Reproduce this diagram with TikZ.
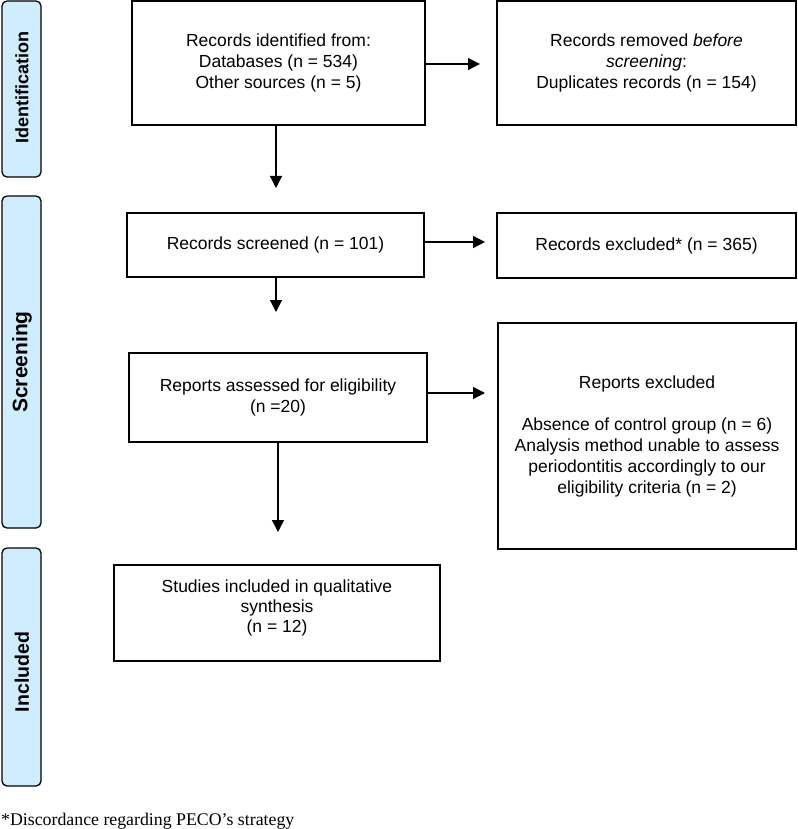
\documentclass[tikz,border=0pt]{standalone}
\usepackage{fontspec}
\setmainfont{Liberation Sans}
\newfontfamily\timesf{Liberation Serif}
\usetikzlibrary{arrows.meta}
\definecolor{barblue}{RGB}{208,237,253}
\begin{document}
\begin{tikzpicture}[x=1pt,y=-1pt,
  box/.style={draw=black,line width=1.3pt,rectangle,align=center,inner sep=0pt,
    font=\fontsize{17.5}{21}\selectfont},
  bar/.style={draw=black,line width=1.3pt,fill=barblue,rounded corners=5pt,
    minimum width=39pt,inner sep=0pt},
  barlabel/.style={rotate=90,font=\bfseries},
  arr/.style={line width=1.3pt,-{Triangle[length=12pt,width=12pt]}}]
\useasboundingbox (0,0) rectangle (797,829);
% side bars
\node[bar,minimum height=176pt] (bid) at (21.5,89) {};
\node[barlabel,font=\fontsize{18}{20}\bfseries\selectfont] (lid) at (22,88) {Identification};
\node[bar,minimum height=332pt] (bsc) at (21.5,362) {};
\node[barlabel,font=\fontsize{21}{23}\bfseries\selectfont] (lsc) at (22,362) {Screening};
\node[bar,minimum height=238pt] (bin) at (21.5,667) {};
\node[barlabel,font=\fontsize{19.5}{21}\bfseries\selectfont] (lin) at (22,672) {Included};
% boxes
\node[box,minimum width=293pt,minimum height=124pt] (b1) at (278.5,63)
  {Records identified from:\\Databases (n = 534)\\Other sources (n = 5)};
\node[box,minimum width=299pt,minimum height=124pt] (b2) at (646.5,63)
  {Records removed \textit{before}\\\textit{screening}:\\Duplicates records (n = 154)};
\node[box,minimum width=297pt,minimum height=64pt] (b3) at (275.5,245)
  {Records screened (n = 101)};
\node[box,minimum width=299pt,minimum height=65pt] (b4) at (646.5,245.5)
  {Records excluded* (n = 365)};
\node[box,minimum width=298pt,minimum height=89pt] (b5) at (278,397.5)
  {Reports assessed for eligibility\\(n =20)};
\node[box,minimum width=298pt,minimum height=226pt] (b6) at (647,436)
  {Reports excluded\\[21pt]Absence of control group (n = 6)\\Analysis method unable to assess\\periodontitis accordingly to our\\eligibility criteria (n = 2)};
\node[box,minimum width=326pt,minimum height=96pt,
  font=\fontsize{17.5}{20}\selectfont] (b7) at (277,613)
  {Studies included in qualitative\\synthesis\\(n = 12)\\[-6pt]};
% footnote
\node[anchor=base west,inner sep=0pt,font=\timesf\fontsize{17.8}{19}\selectfont] (fn) at (1,825)
  {*Discordance regarding PECO’s strategy};
% arrow end points
\coordinate (e1) at (480,64);
\coordinate (e2) at (276,188);
\coordinate (e3) at (485,242);
\coordinate (e4) at (276,312);
\coordinate (e5) at (485,393);
\coordinate (e6) at (278,532);
% arrows
\draw[arr] (b1.east |- e1) -- (e1);
\draw[arr] (b1.south -| e2) -- (e2);
\draw[arr] (b3.east |- e3) -- (e3);
\draw[arr] (b3.south -| e4) -- (e4);
\draw[arr] (b5.east |- e5) -- (e5);
\draw[arr] (b5.south -| e6) -- (e6);
\end{tikzpicture}
\end{document}
